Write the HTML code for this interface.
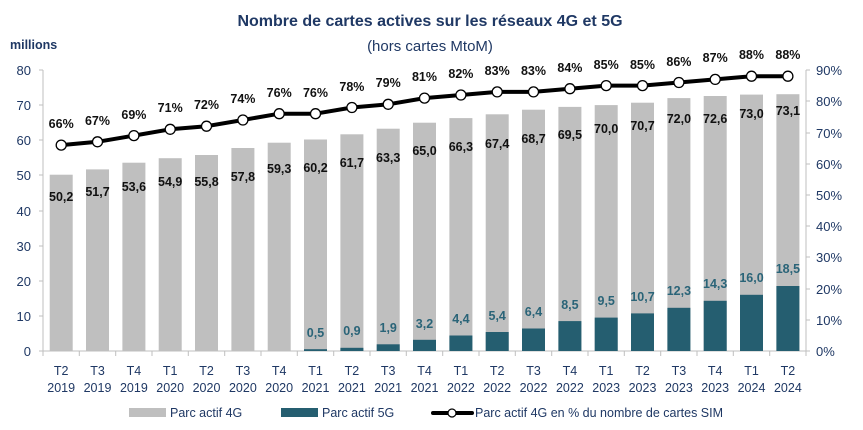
<!DOCTYPE html>
<html><head><meta charset="utf-8"><style>
body{margin:0;background:#fff;}
svg{display:block;font-family:"Liberation Sans",Arial,sans-serif;}
.ax{fill:#1f3864;font-size:13px;}
.xl{fill:#1f3864;font-size:12.5px;text-anchor:middle;}
.g{fill:#111;font-size:12.5px;font-weight:bold;text-anchor:middle;}
.b{fill:#2a6478;font-size:12.5px;font-weight:bold;text-anchor:middle;}
</style></head><body>
<svg width="863" height="430" viewBox="0 0 863 430">
<text x="430" y="26" text-anchor="middle" font-size="16" font-weight="bold" fill="#1f3864">Nombre de cartes actives sur les réseaux 4G et 5G</text>
<text x="430" y="51" text-anchor="middle" font-size="15" fill="#1f3864">(hors cartes MtoM)</text>
<text x="10" y="49" font-size="12.5" font-weight="bold" fill="#1f3864">millions</text>
<g class="ax" text-anchor="end">
<text x="31" y="356">0</text><text x="31" y="321">10</text><text x="31" y="286">20</text><text x="31" y="251">30</text><text x="31" y="216">40</text><text x="31" y="180">50</text><text x="31" y="145">60</text><text x="31" y="110">70</text><text x="31" y="75">80</text>
</g>
<g class="ax">
<text x="816" y="356">0%</text><text x="816" y="325">10%</text><text x="816" y="294">20%</text><text x="816" y="262">30%</text><text x="816" y="231">40%</text><text x="816" y="200">50%</text><text x="816" y="169">60%</text><text x="816" y="138">70%</text><text x="816" y="106">80%</text><text x="816" y="75">90%</text>
</g>
<g stroke="#bfbfbf" stroke-width="1">
<line x1="43" y1="70" x2="43" y2="351"/><line x1="806" y1="70" x2="806" y2="351"/><line x1="43" y1="351" x2="806" y2="351"/>
<path d="M39 351h4M39 316h4M39 281h4M39 246h4M39 211h4M39 175h4M39 140h4M39 105h4M39 70h4"/>
<path d="M806 351h4M806 320h4M806 289h4M806 257h4M806 226h4M806 195h4M806 164h4M806 133h4M806 101h4M806 70h4"/>
<path d="M43 351v5M79.3 351v5M115.7 351v5M152 351v5M188.3 351v5M224.7 351v5M261 351v5M297.3 351v5M333.7 351v5M370 351v5M406.3 351v5M442.7 351v5M479 351v5M515.3 351v5M551.7 351v5M588 351v5M624.3 351v5M660.7 351v5M697 351v5M733.3 351v5M769.7 351v5M806 351v5"/>
</g>
<g fill="#bfbfbf">
<rect x="49.7" y="174.7" width="23" height="176.3"/><rect x="86" y="169.4" width="23" height="181.6"/><rect x="122.4" y="162.7" width="23" height="188.3"/><rect x="158.7" y="158.2" width="23" height="192.8"/><rect x="195" y="155" width="23" height="196"/><rect x="231.4" y="148" width="23" height="203"/><rect x="267.7" y="142.7" width="23" height="208.3"/><rect x="304" y="139.5" width="23" height="211.5"/><rect x="340.4" y="134.3" width="23" height="216.7"/><rect x="376.7" y="128.7" width="23" height="222.3"/><rect x="413" y="122.7" width="23" height="228.3"/><rect x="449.4" y="118.1" width="23" height="232.9"/><rect x="485.7" y="114.3" width="23" height="236.7"/><rect x="522" y="109.7" width="23" height="241.3"/><rect x="558.4" y="106.9" width="23" height="244.1"/><rect x="594.7" y="105.1" width="23" height="245.9"/><rect x="631" y="102.7" width="23" height="248.3"/><rect x="667.4" y="98.1" width="23" height="252.9"/><rect x="703.7" y="96" width="23" height="255"/><rect x="740" y="94.6" width="23" height="256.4"/><rect x="776.4" y="94.2" width="23" height="256.8"/>
</g>
<g fill="#255e70">
<rect x="304" y="349.2" width="23" height="1.8"/><rect x="340.4" y="347.8" width="23" height="3.2"/><rect x="376.7" y="344.3" width="23" height="6.7"/><rect x="413" y="339.8" width="23" height="11.2"/><rect x="449.4" y="335.5" width="23" height="15.5"/><rect x="485.7" y="332" width="23" height="19"/><rect x="522" y="328.5" width="23" height="22.5"/><rect x="558.4" y="321.1" width="23" height="29.9"/><rect x="594.7" y="317.6" width="23" height="33.4"/><rect x="631" y="313.4" width="23" height="37.6"/><rect x="667.4" y="307.8" width="23" height="43.2"/><rect x="703.7" y="300.8" width="23" height="50.2"/><rect x="740" y="294.8" width="23" height="56.2"/><rect x="776.4" y="286" width="23" height="65"/>
</g>
<g class="g">
<text x="61.2" y="201">50,2</text><text x="97.5" y="196">51,7</text><text x="133.9" y="191">53,6</text><text x="170.2" y="186">54,9</text><text x="206.5" y="186">55,8</text><text x="242.9" y="181">57,8</text><text x="279.2" y="173">59,3</text><text x="315.5" y="172">60,2</text><text x="351.9" y="167">61,7</text><text x="388.2" y="162">63,3</text><text x="424.5" y="155">65,0</text><text x="460.9" y="151">66,3</text><text x="497.2" y="148">67,4</text><text x="533.5" y="143">68,7</text><text x="569.9" y="139">69,5</text><text x="606.2" y="133">70,0</text><text x="642.5" y="130">70,7</text><text x="678.9" y="123">72,0</text><text x="715.2" y="123">72,6</text><text x="751.5" y="118">73,0</text><text x="787.9" y="115">73,1</text>
</g>
<g class="b">
<text x="315.5" y="337">0,5</text><text x="351.9" y="335">0,9</text><text x="388.2" y="332">1,9</text><text x="424.5" y="328">3,2</text><text x="460.9" y="323">4,4</text><text x="497.2" y="320">5,4</text><text x="533.5" y="316">6,4</text><text x="569.9" y="309">8,5</text><text x="606.2" y="305">9,5</text><text x="642.5" y="301">10,7</text><text x="678.9" y="295">12,3</text><text x="715.2" y="288">14,3</text><text x="751.5" y="282">16,0</text><text x="787.9" y="273">18,5</text>
</g>
<polyline fill="none" stroke="#000" stroke-width="4" stroke-linejoin="round" points="61.2,145.1 97.5,141.8 133.9,135.6 170.2,129.3 206.5,126.2 242.9,120 279.2,113.7 315.5,113.7 351.9,107.5 388.2,104.3 424.5,98.1 460.9,95 497.2,91.9 533.5,91.9 569.9,88.7 606.2,85.6 642.5,85.6 678.9,82.5 715.2,79.4 751.5,76.2 787.9,76.2"/>
<g fill="#fff" stroke="#000" stroke-width="1.3">
<circle cx="61.2" cy="145.1" r="5"/><circle cx="97.5" cy="141.8" r="5"/><circle cx="133.9" cy="135.6" r="5"/><circle cx="170.2" cy="129.3" r="5"/><circle cx="206.5" cy="126.2" r="5"/><circle cx="242.9" cy="120" r="5"/><circle cx="279.2" cy="113.7" r="5"/><circle cx="315.5" cy="113.7" r="5"/><circle cx="351.9" cy="107.5" r="5"/><circle cx="388.2" cy="104.3" r="5"/><circle cx="424.5" cy="98.1" r="5"/><circle cx="460.9" cy="95" r="5"/><circle cx="497.2" cy="91.9" r="5"/><circle cx="533.5" cy="91.9" r="5"/><circle cx="569.9" cy="88.7" r="5"/><circle cx="606.2" cy="85.6" r="5"/><circle cx="642.5" cy="85.6" r="5"/><circle cx="678.9" cy="82.5" r="5"/><circle cx="715.2" cy="79.4" r="5"/><circle cx="751.5" cy="76.2" r="5"/><circle cx="787.9" cy="76.2" r="5"/>
</g>
<g class="g">
<text x="61.2" y="128">66%</text><text x="97.5" y="125">67%</text><text x="133.9" y="119">69%</text><text x="170.2" y="112">71%</text><text x="206.5" y="109">72%</text><text x="242.9" y="103">74%</text><text x="279.2" y="97">76%</text><text x="315.5" y="97">76%</text><text x="351.9" y="91">78%</text><text x="388.2" y="87">79%</text><text x="424.5" y="81">81%</text><text x="460.9" y="78">82%</text><text x="497.2" y="75">83%</text><text x="533.5" y="75">83%</text><text x="569.9" y="72">84%</text><text x="606.2" y="69">85%</text><text x="642.5" y="69">85%</text><text x="678.9" y="66">86%</text><text x="715.2" y="62">87%</text><text x="751.5" y="59">88%</text><text x="787.9" y="59">88%</text>
</g>
<g class="xl">
<text x="61.2" y="375">T2</text><text x="97.5" y="375">T3</text><text x="133.9" y="375">T4</text><text x="170.2" y="375">T1</text><text x="206.5" y="375">T2</text><text x="242.9" y="375">T3</text><text x="279.2" y="375">T4</text><text x="315.5" y="375">T1</text><text x="351.9" y="375">T2</text><text x="388.2" y="375">T3</text><text x="424.5" y="375">T4</text><text x="460.9" y="375">T1</text><text x="497.2" y="375">T2</text><text x="533.5" y="375">T3</text><text x="569.9" y="375">T4</text><text x="606.2" y="375">T1</text><text x="642.5" y="375">T2</text><text x="678.9" y="375">T3</text><text x="715.2" y="375">T4</text><text x="751.5" y="375">T1</text><text x="787.9" y="375">T2</text>
<text x="61.2" y="392">2019</text><text x="97.5" y="392">2019</text><text x="133.9" y="392">2019</text><text x="170.2" y="392">2020</text><text x="206.5" y="392">2020</text><text x="242.9" y="392">2020</text><text x="279.2" y="392">2020</text><text x="315.5" y="392">2021</text><text x="351.9" y="392">2021</text><text x="388.2" y="392">2021</text><text x="424.5" y="392">2021</text><text x="460.9" y="392">2022</text><text x="497.2" y="392">2022</text><text x="533.5" y="392">2022</text><text x="569.9" y="392">2022</text><text x="606.2" y="392">2023</text><text x="642.5" y="392">2023</text><text x="678.9" y="392">2023</text><text x="715.2" y="392">2023</text><text x="751.5" y="392">2024</text><text x="787.9" y="392">2024</text>
</g>
<rect x="129" y="408" width="37" height="9" fill="#bfbfbf"/>
<text x="170" y="417" font-size="12.5" fill="#1f3864">Parc actif 4G</text>
<rect x="281" y="408" width="37" height="9" fill="#255e70"/>
<text x="322" y="417" font-size="12.5" fill="#1f3864">Parc actif 5G</text>
<line x1="433" y1="413" x2="472" y2="413" stroke="#000" stroke-width="4" stroke-linecap="round"/>
<circle cx="452" cy="413" r="4" fill="#fff" stroke="#000" stroke-width="1.2"/>
<text x="475" y="417" font-size="12.5" fill="#1f3864">Parc actif 4G en % du nombre de cartes SIM</text>
</svg>
</body></html>
